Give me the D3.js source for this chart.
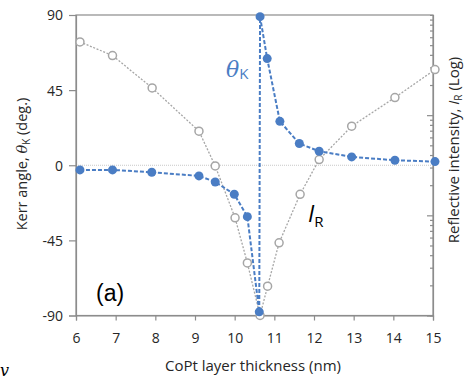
<!DOCTYPE html>
<html>
<head>
<meta charset="utf-8">
<script src="https://cdn.jsdelivr.net/npm/d3@7"></script>
<style>
  body { margin: 0; background: #fff; }
  svg { display: block; }
  text { font-family: "Open Sans", "Liberation Sans", sans-serif; }
</style>
</head>
<body>
<svg id="chart" width="467" height="380"></svg>
<script>
// CoPt layer thickness (nm)
const kerrX = [6.1, 6.92, 7.91, 9.1, 9.51, 9.99, 10.32, 10.62, 10.64, 10.82, 11.14, 11.63, 12.13, 12.95, 14.04, 15.05];
// Kerr angle (deg.)
const kerrY = [-2.8, -2.8, -4.2, -6.4, -10.0, -17.4, -30.8, -87.8, 89, 63.9, 26.3, 13.0, 8.4, 5.0, 3.0, 2.2];

const irX = [6.1, 6.92, 7.92, 9.1, 9.51, 10.01, 10.32, 10.64, 10.83, 11.12, 11.65, 12.13, 12.95, 14.04, 15.05];
// reflective intensity (arb., log)
const irY = [539, 394, 187, 69.2, 31.1, 9.44, 3.35, 1.0, 1.96, 5.31, 16.2, 36.0, 77.6, 150, 285];

const xTicks = [6, 7, 8, 9, 10, 11, 12, 13, 14, 15];
const yTicks = [-90, -45, 0, 45, 90];

const blue = "#4a7dc4";
const grey = "#a6a6a6";

const svg = d3.select("#chart");
const x = d3.scaleLinear().domain([6, 15]).range([76, 433]);
const y = d3.scaleLinear().domain([-90, 90]).range([315.5, 15]);
const yR = d3.scaleLog().domain([1, 1000]).range([315.5, 15]);

// frame
svg.append("rect")
  .attr("x", x(6)).attr("y", y(90))
  .attr("width", x(15) - x(6)).attr("height", y(-90) - y(90))
  .attr("fill", "none").attr("stroke", "#8c8c8c").attr("stroke-width", 1.2);

// zero line
svg.append("line")
  .attr("x1", x(6)).attr("x2", x(15))
  .attr("y1", y(0)).attr("y2", y(0))
  .attr("stroke", "#c8c8c8").attr("stroke-width", 1)
  .attr("stroke-dasharray", "1,1");

// left axis
const gL = svg.append("g")
  .attr("transform", `translate(${x(6)},0)`)
  .call(d3.axisLeft(y).tickValues(yTicks).tickSize(7).tickPadding(6).tickFormat((d) => String(d)));
// bottom axis
const gB = svg.append("g")
  .attr("transform", `translate(0,${y(-90)})`)
  .call(d3.axisBottom(x).tickValues(xTicks).tickSize(5).tickPadding(13));
// right log axis, inward ticks
const minor = [];
for (let d = 1; d < 1000; d *= 10) for (let k = 1; k < 10; k++) minor.push(d * k);
const gR = svg.append("g")
  .attr("transform", `translate(${x(15)},0)`)
  .call(d3.axisRight(yR).tickValues(minor).tickSize(-3).tickFormat(""));
gR.selectAll(".tick line")
  .attr("x2", (d) => (Math.abs(Math.log10(d) % 1) < 1e-9 ? -6 : -3));

[gL, gB, gR].forEach((g) => {
  g.select(".domain").attr("stroke", "#8c8c8c").attr("stroke-width", 1.2);
  g.selectAll(".tick line").attr("stroke", "#8c8c8c").attr("stroke-width", 1.2);
  g.selectAll(".tick text")
    .attr("fill", "#262626")
    .style("font-family", "'Open Sans', sans-serif")
    .style("font-size", "14px");
});
gL.selectAll(".tick text").attr("dy", "0.35em");

// lines
const kerrPts = kerrX.map((d, i) => [d, kerrY[i]]);
const irPts = irX.map((d, i) => [d, irY[i]]);

svg.append("path")
  .datum(irPts)
  .attr("fill", "none")
  .attr("stroke", grey)
  .attr("stroke-width", 1.3)
  .attr("stroke-dasharray", "2,1.6")
  .attr("d", d3.line().x((d) => x(d[0])).y((d) => yR(d[1])));

svg.append("path")
  .datum(kerrPts)
  .attr("fill", "none")
  .attr("stroke", blue)
  .attr("stroke-width", 2)
  .attr("stroke-dasharray", "4,2")
  .attr("d", d3.line().x((d) => x(d[0])).y((d) => y(d[1])));

svg.append("g")
  .selectAll("circle")
  .data(irPts)
  .join("circle")
  .attr("cx", (d) => x(d[0]))
  .attr("cy", (d) => yR(d[1]))
  .attr("r", 4)
  .attr("fill", "#fff")
  .attr("stroke", grey)
  .attr("stroke-width", 1.5);

svg.append("g")
  .selectAll("circle")
  .data(kerrPts)
  .join("circle")
  .attr("cx", (d) => x(d[0]))
  .attr("cy", (d) => y(d[1]))
  .attr("r", 4.5)
  .attr("fill", blue);

// axis titles
svg.append("text")
  .attr("x", 253).attr("y", 371)
  .attr("text-anchor", "middle")
  .attr("fill", "#262626")
  .style("font-size", "15px")
  .text("CoPt layer thickness (nm)");

const tl = svg.append("text")
  .attr("transform", "translate(27,164) rotate(-90)")
  .attr("text-anchor", "middle")
  .attr("fill", "#262626")
  .style("font-size", "14.5px");
tl.append("tspan").text("Kerr angle, ");
tl.append("tspan").style("font-style", "italic").style("font-family", "'DejaVu Serif', serif").text("θ");
tl.append("tspan").style("font-size", "10px").attr("dy", 3).text("K");
tl.append("tspan").attr("dy", -3).text(" (deg.)");

const tr = svg.append("text")
  .attr("transform", "translate(459,150) rotate(-90)")
  .attr("text-anchor", "middle")
  .attr("fill", "#262626")
  .style("font-size", "15px");
tr.append("tspan").text("Reflective intensity, ");
tr.append("tspan").style("font-style", "italic").text("I");
tr.append("tspan").style("font-size", "10px").attr("dy", 3).text("R");
tr.append("tspan").attr("dy", -3).text(" (Log)");

// annotations
const ak = svg.append("text")
  .attr("x", 226).attr("y", 77)
  .attr("fill", blue)
  .style("font-size", "22px");
ak.append("tspan").style("font-style", "italic").style("font-family", "'DejaVu Serif', serif").text("θ");
ak.append("tspan").style("font-size", "15px").attr("dy", 2).text("K");

const ai = svg.append("text")
  .attr("x", 308).attr("y", 222)
  .attr("fill", "#000")
  .style("font-size", "23px");
ai.append("tspan").style("font-style", "italic").text("I");
ai.append("tspan").style("font-size", "15px").attr("dy", 5).text("R");

svg.append("text")
  .attr("x", 96).attr("y", 301)
  .attr("fill", "#000")
  .style("font-family", "'Liberation Sans', Arial, sans-serif")
  .style("font-size", "23px")
  .text("(a)");

svg.append("text")
  .attr("x", 0).attr("y", 376)
  .attr("fill", "#000")
  .style("font-family", "'DejaVu Serif', serif")
  .style("font-style", "italic")
  .style("font-size", "16px")
  .text("v");
</script>
</body>
</html>
